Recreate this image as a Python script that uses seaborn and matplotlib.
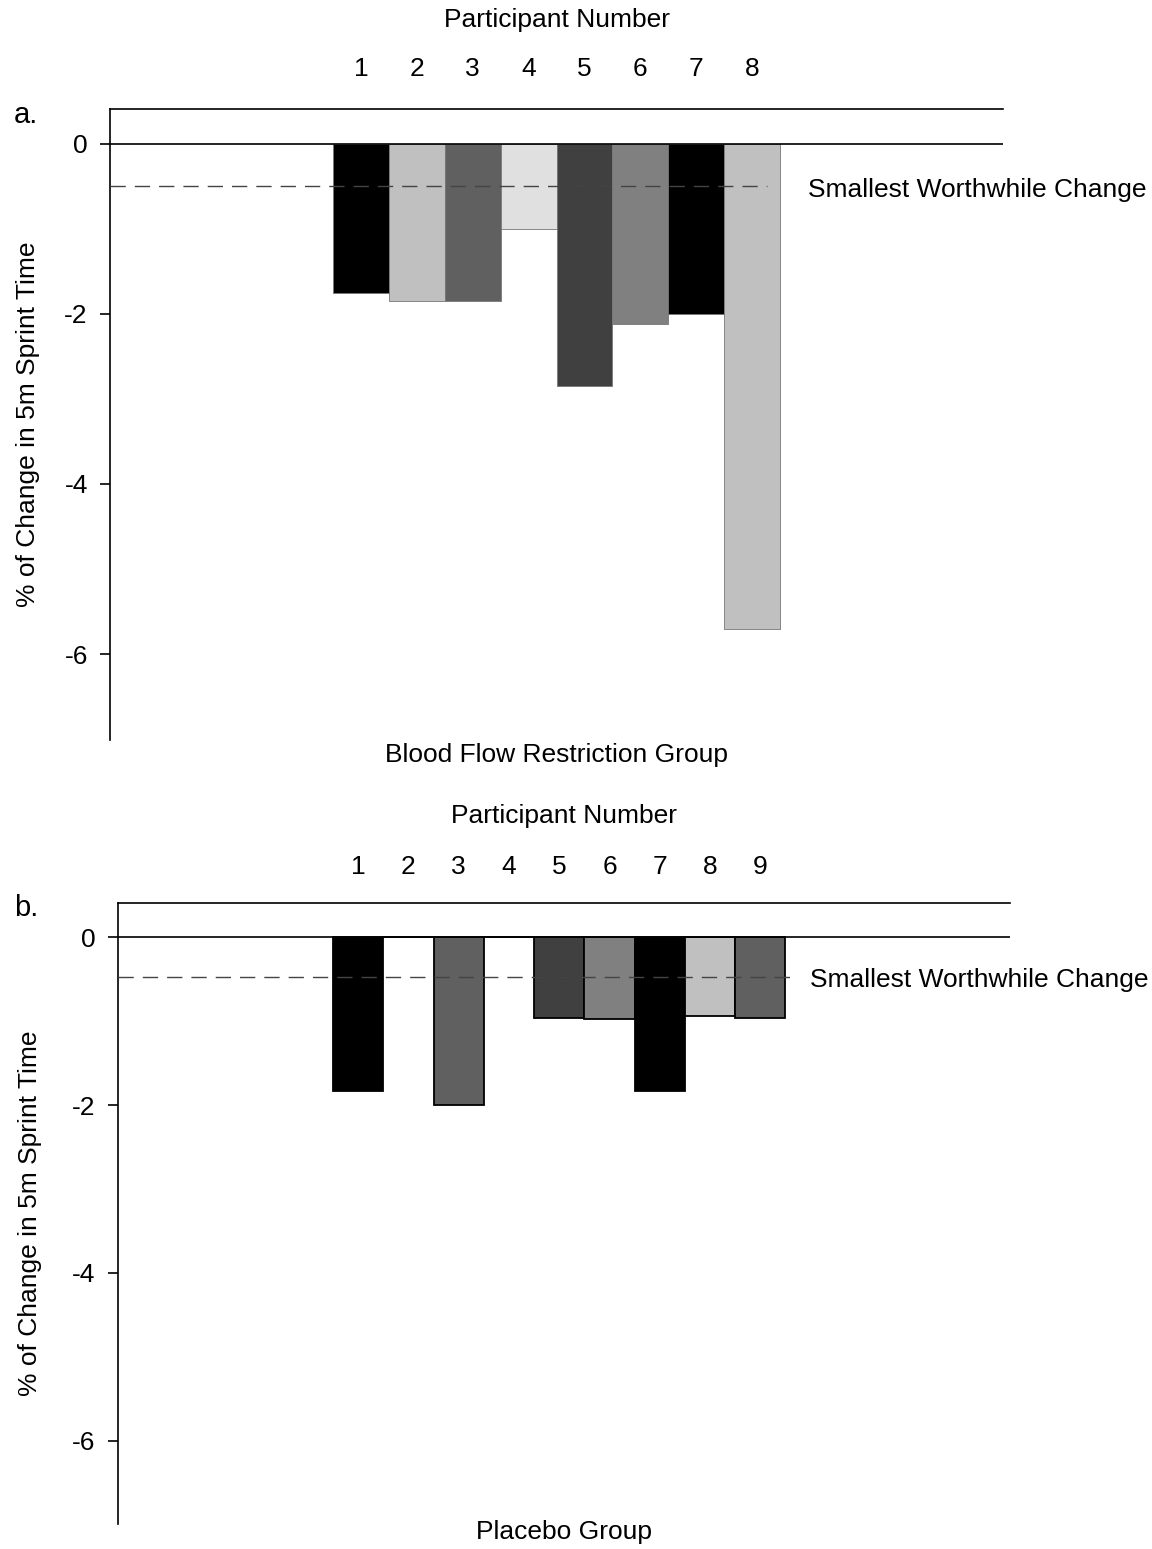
import matplotlib
matplotlib.use("Agg")
import matplotlib.pyplot as plt
import seaborn as sns
import pandas as pd

# data
bfr_participants = ["1", "2", "3", "4", "5", "6", "7", "8"]
bfr_change = [-1.75, -1.85, -1.85, -1.0, -2.85, -2.12, -2.0, -5.7]
bfr_colors = ["#000000", "#c0c0c0", "#606060", "#e0e0e0", "#404040", "#808080", "#000000", "#c0c0c0"]
bfr_swc = -0.5

pla_participants = ["1", "2", "3", "4", "5", "6", "7", "8", "9"]
pla_change = [-1.83, 0.0, -2.0, 0.0, -0.96, -0.98, -1.83, -0.94, -0.96]
pla_colors = ["#000000", "#c0c0c0", "#606060", "#e0e0e0", "#404040", "#808080", "#000000", "#c0c0c0", "#606060"]
pla_swc = -0.47

yticks = [0, -2, -4, -6]

sns.set_style("white")
plt.rcParams["font.family"] = ["Liberation Sans", "DejaVu Sans"]
plt.rcParams["text.color"] = "black"
plt.rcParams["axes.labelcolor"] = "black"
plt.rcParams["xtick.color"] = "black"
plt.rcParams["ytick.color"] = "black"
FS = 19

fig = plt.figure(figsize=(11.52, 15.49), dpi=100)
ax1 = fig.add_axes([0.0955, 0.5223, 0.7752, 0.4074])
ax2 = fig.add_axes([0.1024, 0.0161, 0.7743, 0.4009])


def draw_panel(ax, parts, vals, cols, swc, xlim, ylim, swc_end, group, group_y,
               edge, elw, ylab_x, xpad, xlabpad):
    df = pd.DataFrame({"participant": parts, "change": vals})
    sns.barplot(data=df, x="participant", y="change", hue="participant",
                palette=cols, width=1.0, dodge=False, legend=False, ax=ax,
                edgecolor=edge, linewidth=elw, saturation=1)
    ax.set_xlim(*xlim)
    ax.set_ylim(*ylim)
    ax.axhline(0, color="black", lw=1.2, zorder=3)
    ax.axhline(swc, xmin=0, xmax=swc_end, color="#444444", lw=1.0,
               ls=(0, (11, 6.5)), zorder=4)
    ax.annotate("Smallest Worthwhile Change", xy=(len(parts), swc),
                xytext=(0, -2.5), textcoords="offset points", fontsize=FS,
                ha="left", va="center")

    for s in ["right", "bottom"]:
        ax.spines[s].set_visible(False)
    for s in ["top", "left"]:
        ax.spines[s].set_color("black")
        ax.spines[s].set_linewidth(1.2)

    ax.xaxis.tick_top()
    ax.xaxis.set_label_position("top")
    ax.tick_params(axis="x", length=0, pad=xpad, labelsize=FS)
    ax.set_xlabel("Participant Number", fontsize=FS, labelpad=xlabpad)

    ax.set_yticks(yticks)
    ax.set_yticklabels([str(t) for t in yticks])
    ax.tick_params(axis="y", left=True, length=7, width=1.2, pad=9,
                   labelsize=FS, color="black")
    ax.set_ylabel("% of Change in 5m Sprint Time", fontsize=FS)
    ax.yaxis.label.set_va("center")
    ax.yaxis.set_label_coords(ylab_x, 0.5)

    ax.text(0.5, group_y, group, transform=ax.transAxes, fontsize=FS,
            ha="center", va="center")


draw_panel(ax1, bfr_participants, bfr_change, bfr_colors, bfr_swc,
           (-4.49, 11.49), (-7.01, 0.41), 0.736,
           "Blood Flow Restriction Group", -0.024, "#777777", 0.6, -0.092,
           20, 22)
draw_panel(ax2, pla_participants, pla_change, pla_colors, pla_swc,
           (-4.78, 12.97), (-6.99, 0.405), 0.753,
           "Placebo Group", -0.013, "black", 1.3, -0.099,
           17, 23.5)

fig.text(0.012, 1 - 115 / 1549, "a.", fontsize=21, ha="left", va="center")
fig.text(0.012, 1 - 908 / 1549, "b.", fontsize=21, ha="left", va="center")

fig.savefig("out.png", dpi=100)
